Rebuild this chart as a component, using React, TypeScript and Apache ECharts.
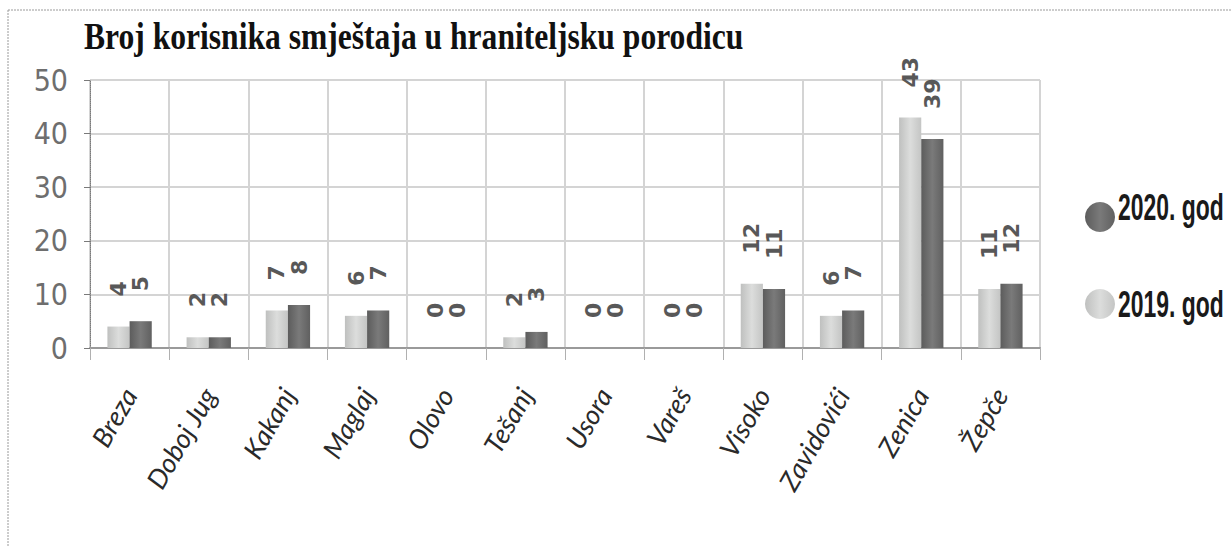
import React, { useEffect, useRef } from "react";
import * as echarts from "echarts";

const categories = ["Breza", "Doboj Jug", "Kakanj", "Maglaj", "Olovo", "Tešanj", "Usora", "Vareš", "Visoko", "Zavidovići", "Zenica", "Žepče"];
const values2019 = [4, 2, 7, 6, 0, 2, 0, 0, 12, 6, 43, 11];
const values2020 = [5, 2, 8, 7, 0, 3, 0, 0, 11, 7, 39, 12];
const seriesNames = ["2019. god", "2020. god"];
const legendOrder = ["2020. god", "2019. god"];
const titleText = "Broj korisnika smještaja u hraniteljsku porodicu";

const COND = "'DejaVu Sans Condensed', 'Liberation Sans', sans-serif";

export default function App() {
  const ref = useRef<HTMLDivElement>(null);
  useEffect(() => {
    document.body.style.margin = "0";
    const chart = echarts.init(ref.current!, null, { renderer: "svg" });
    const lightGrad = new echarts.graphic.LinearGradient(0, 0, 1, 0, [
      { offset: 0, color: "#bfc0bf" },
      { offset: 0.5, color: "#dcdddc" },
      { offset: 1, color: "#c4c5c4" },
    ]);
    const darkGrad = new echarts.graphic.LinearGradient(0, 0, 1, 0, [
      { offset: 0, color: "#5c5c5c" },
      { offset: 0.5, color: "#7a7a7a" },
      { offset: 1, color: "#606060" },
    ]);
    const label = {
      show: true,
      position: "top",
      distance: 30,
      rotate: 90,
      align: "left",
      verticalAlign: "middle",
      fontSize: 22,
      fontWeight: "bold",
      fontFamily: "'DejaVu Sans', sans-serif",
      color: "#585858",
    };
    const legendTextStyle = {
      fontSize: 37,
      fontWeight: "bold",
      fontFamily: "'Liberation Sans', Arial, sans-serif",
      fill: "#1a1a1a",
      textAlign: "left",
      textVerticalAlign: "middle",
    };
    chart.setOption({
      animation: false,
      backgroundColor: "#ffffff",
      grid: { left: 90, right: 191, top: 80, bottom: 199, containLabel: false },
      legend: {
        data: legendOrder,
        orient: "vertical",
        left: 1080,
        top: 197,
        icon: "circle",
        itemWidth: 30,
        itemHeight: 30,
        itemGap: 57,
        formatter: () => "",
        textStyle: { fontSize: 1 },
      },
      xAxis: {
        type: "category",
        data: categories,
        axisLine: { lineStyle: { color: "#9a9a9a", width: 2 } },
        axisTick: { show: true, length: 12, lineStyle: { color: "#b0b0b0" } },
        splitLine: { show: true, lineStyle: { color: "#d4d4d4", width: 2 } },
        axisLabel: {
          rotate: 60,
          interval: 0,
          margin: 42,
          fontSize: 27,
          fontStyle: "italic",
          fontFamily: "Lato, 'Open Sans', sans-serif",
          color: "#2a2a2a",
        },
      },
      yAxis: {
        type: "value",
        min: 0,
        max: 50,
        interval: 10,
        axisLine: { show: true, lineStyle: { color: "#7a7a7a", width: 1, type: "dotted" } },
        axisTick: { show: true, length: 6, lineStyle: { color: "#7a7a7a" } },
        splitLine: { show: true, lineStyle: { color: "#d4d4d4", width: 2 } },
        axisLabel: { fontSize: 30, fontFamily: COND, color: "#6e6e6e", margin: 22 },
      },
      series: [
        {
          name: seriesNames[0],
          type: "bar",
          data: values2019,
          barGap: "0%",
          barCategoryGap: "44%",
          itemStyle: { color: lightGrad },
          label,
        },
        {
          name: seriesNames[1],
          type: "bar",
          data: values2020,
          barGap: "0%",
          barCategoryGap: "44%",
          itemStyle: { color: darkGrad },
          label,
        },
      ],
      graphic: [
        {
          type: "text",
          left: 84,
          top: 16,
          scaleX: 0.81,
          style: {
            text: titleText,
            fontSize: 39,
            fontWeight: "bold",
            fontFamily: "'Liberation Serif', 'DejaVu Serif', serif",
            fill: "#111111",
          },
        },
        {
          type: "text",
          x: 1118,
          y: 207,
          scaleX: 0.62,
          style: { ...legendTextStyle, text: legendOrder[0] },
        },
        {
          type: "text",
          x: 1118,
          y: 304,
          scaleX: 0.62,
          style: { ...legendTextStyle, text: legendOrder[1] },
        },
        {
          type: "line",
          shape: { x1: 8, y1: 10, x2: 1231, y2: 10 },
          style: { stroke: "#9a9a9a", lineWidth: 1, lineDash: [2, 1] },
        },
        {
          type: "line",
          shape: { x1: 8, y1: 10, x2: 8, y2: 547 },
          style: { stroke: "#9a9a9a", lineWidth: 1, lineDash: [2, 1] },
        },
      ],
    });
    return () => chart.dispose();
  }, []);
  return <div ref={ref} style={{ width: 1231, height: 547 }} />;
}
